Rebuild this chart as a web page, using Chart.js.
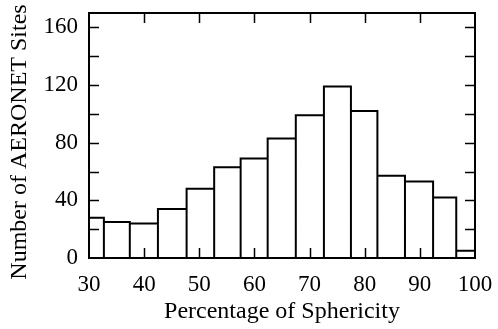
<!DOCTYPE html>
<html>
<head>
<meta charset="utf-8">
<script src="https://cdn.jsdelivr.net/npm/chart.js@4/dist/chart.umd.min.js"></script>
<style>
  html, body { margin: 0; padding: 0; background: #fff; }
  canvas { display: block; }
</style>
</head>
<body>
<canvas id="c" width="498" height="329"></canvas>
<script>
// Histogram bin edges (x, % sphericity) and counts per bin
const binEdges = [30, 32.7, 37.4, 42.5, 47.7, 52.7, 57.5, 62.4, 67.5, 72.6, 77.5, 82.3, 87.3, 92.4, 96.6, 100];
const counts   = [28, 25, 24, 34, 48, 63, 69, 83, 99, 119, 102, 57, 53, 42, 5];
const xTickLabels = [30, 40, 50, 60, 70, 80, 90, 100];
const yTickLabels = [0, 40, 80, 120, 160];
const xTickMarks = [40, 50, 60, 70, 80, 90];
const yTickMarks = [20, 40, 60, 80, 100, 120, 140, 160];

const xTitle = 'Percentage of Sphericity';
const yTitle = 'Number of AERONET Sites';

// outline points of the histogram bars
const pts = [];
for (let i = 0; i < counts.length; i++) {
  pts.push({x: binEdges[i], y: 0});
  pts.push({x: binEdges[i], y: counts[i]});
  pts.push({x: binEdges[i + 1], y: counts[i]});
  pts.push({x: binEdges[i + 1], y: 0});
}

const FONT = "'Liberation Serif', 'Times New Roman', serif";

const framePlugin = {
  id: 'frame',
  beforeDraw(chart) {
    // centre the y-axis title a little lower, as in the reference
    chart.scales.y.bottom = chart.chartArea.bottom + 13;
  },
  afterDatasetsDraw(chart) {
    const {ctx, chartArea: a, scales} = chart;
    const L = 10;
    ctx.save();
    ctx.strokeStyle = '#000';
    ctx.lineWidth = 1.5;
    ctx.beginPath();
    yTickMarks.forEach(v => {
      const y = Math.round(scales.y.getPixelForValue(v)) + 0.5;
      ctx.moveTo(a.left, y); ctx.lineTo(a.left + L, y);
      ctx.moveTo(a.right, y); ctx.lineTo(a.right - L, y);
    });
    xTickMarks.forEach(v => {
      const x = Math.round(scales.x.getPixelForValue(v)) + 0.5;
      ctx.moveTo(x, a.top); ctx.lineTo(x, a.top + L);
      ctx.moveTo(x, a.bottom); ctx.lineTo(x, a.bottom - L);
    });
    ctx.stroke();
    ctx.lineWidth = 2;
    ctx.strokeRect(a.left, a.top, a.right - a.left, a.bottom - a.top);
    ctx.restore();
  }
};

new Chart(document.getElementById('c'), {
  type: 'scatter',
  data: {
    datasets: [{
      data: pts,
      showLine: true,
      borderColor: '#000',
      borderWidth: 2,
      pointRadius: 0,
      fill: false,
      tension: 0,
      clip: false
    }]
  },
  options: {
    responsive: false,
    animation: false,
    events: [],
    layout: { padding: { top: 13, right: 23, left: 0, bottom: 0 } },
    plugins: { legend: { display: false }, tooltip: { enabled: false } },
    scales: {
      x: {
        type: 'linear',
        min: 30, max: 100,
        afterBuildTicks: s => { s.ticks = xTickLabels.map(v => ({value: v})); },
        afterFit: s => { s.height = 71; s.paddingLeft = 0; s.paddingRight = 0; },
        grid: { display: false, drawTicks: false },
        border: { display: false },
        ticks: { color: '#000', font: { family: FONT, size: 23 }, padding: 13, maxRotation: 0, autoSkip: false },
        title: { display: true, text: xTitle, color: '#000', font: { family: FONT, size: 24 }, padding: { top: 0, bottom: 3 } }
      },
      y: {
        type: 'linear',
        min: 0, max: 170,
        afterBuildTicks: s => { s.ticks = yTickLabels.map(v => ({value: v})); },
        afterFit: s => { s.width = 89; s.paddingTop = 0; s.paddingBottom = 0; },
        grid: { display: false, drawTicks: false },
        border: { display: false },
        ticks: { color: '#000', font: { family: FONT, size: 23 }, padding: 11, autoSkip: false },
        title: { display: true, text: yTitle, color: '#000', font: { family: FONT, size: 24 }, padding: { top: 5, bottom: 0 } }
      }
    }
  },
  plugins: [framePlugin]
});
</script>
</body>
</html>
